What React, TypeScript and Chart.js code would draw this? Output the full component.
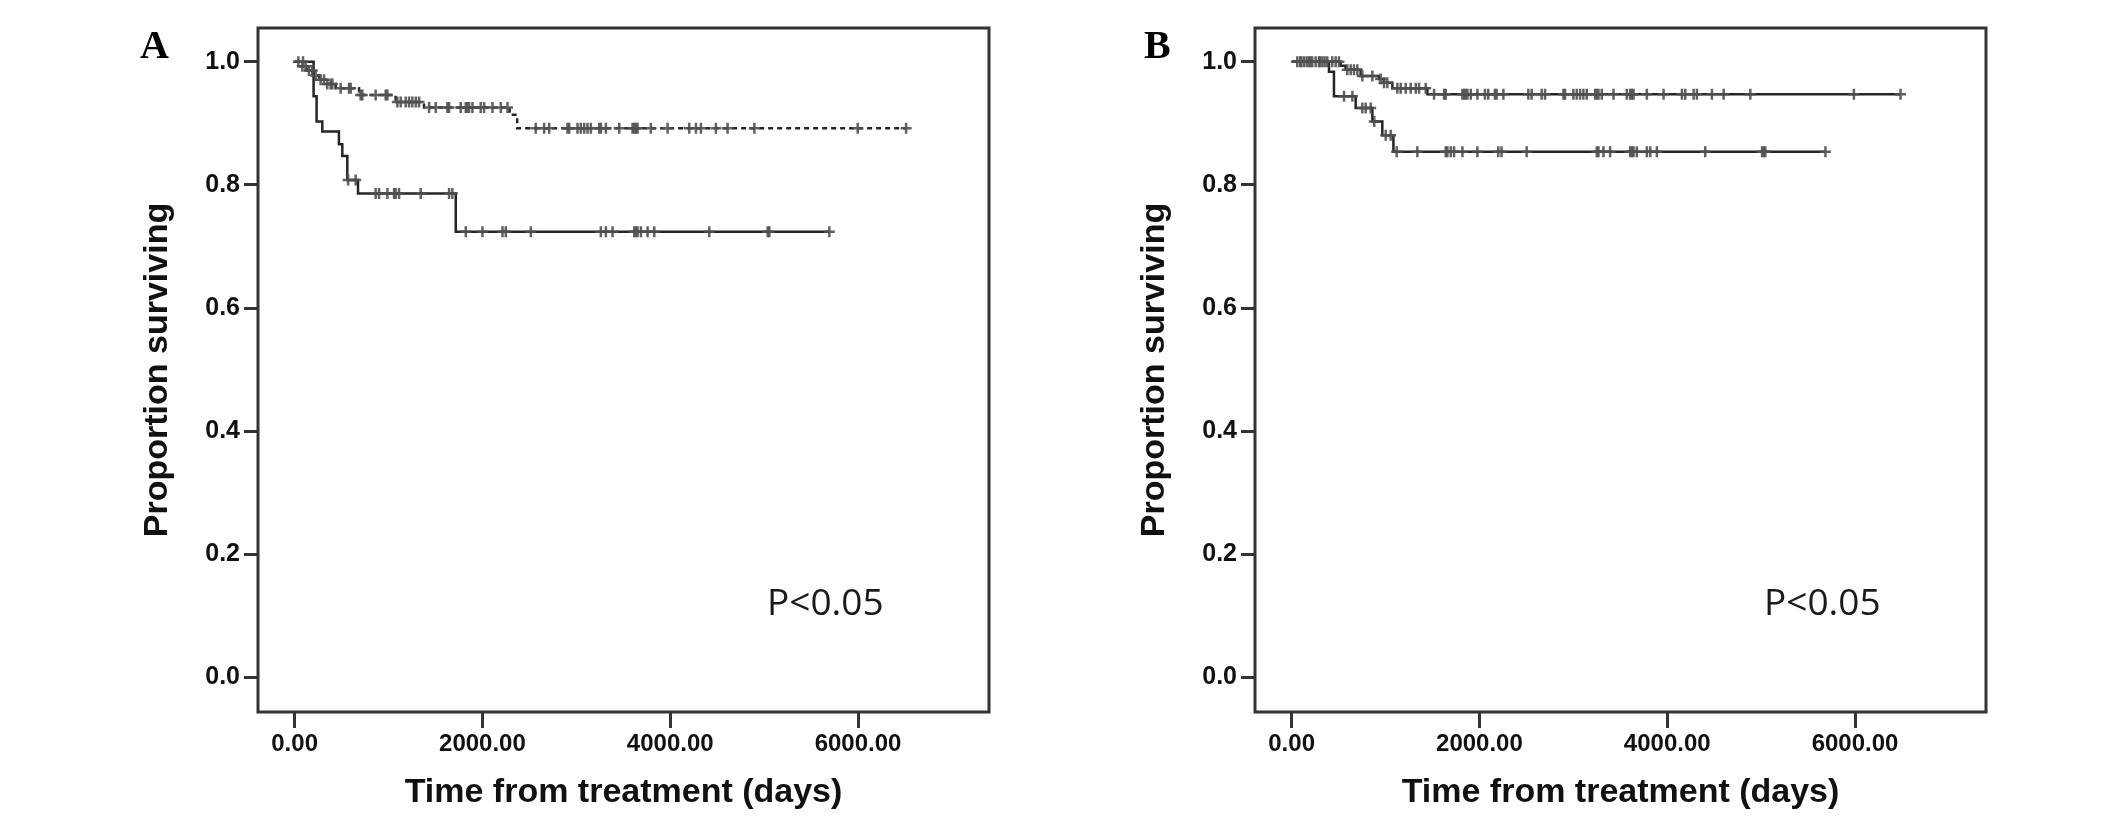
import { useEffect, useRef } from "react"
import { Chart, registerables } from "chart.js"

Chart.register(...registerables)

// Painel A - tempos dos eventos (dias) e sobrevida após cada evento
const aUpperTimes = [0, 60, 130, 200, 260, 330, 437, 686, 1076, 1378, 2290, 2370]
const aUpperSurv = [1.0, 0.993, 0.986, 0.978, 0.971, 0.964, 0.957, 0.946, 0.935, 0.926, 0.914, 0.892]
const aUpperCensored = [
  82, 117, 153, 188, 224, 277, 313, 348, 384, 402, 490, 579, 597, 703, 721, 863, 970, 988, 1094, 1130,
  1183, 1219, 1254, 1290, 1325, 1432, 1503, 1627, 1645, 1769, 1823, 1840, 1858, 1894, 1982, 2018, 2107,
  2196, 2267, 2568, 2657, 2711, 2906, 2924, 3013, 3048, 3084, 3119, 3155, 3244, 3262, 3315, 3457, 3599,
  3617, 3635, 3652, 3794, 3972, 4203, 4274, 4327, 4487, 4611, 4896, 5997, 6512,
]

const aLowerTimes = [0, 202, 234, 295, 472, 508, 561, 675, 1716]
const aLowerSurv = [1.0, 0.944, 0.903, 0.887, 0.866, 0.847, 0.808, 0.786, 0.724]
const aLowerCensored = [
  40, 90, 570, 650, 863, 899, 988, 1059, 1076, 1112, 1343, 1645, 1680, 1823, 2000, 2214, 2249, 2516, 3261,
  3315, 3386, 3617, 3635, 3652, 3688, 3759, 3830, 4416, 5038, 5056, 5695,
]

// Painel B
const bUpperTimes = [0, 522, 575, 735, 931, 984, 1073, 1446]
const bUpperSurv = [1.0, 0.9935, 0.987, 0.977, 0.972, 0.966, 0.957, 0.9475]
const bUpperCensored = [
  60, 103, 131, 160, 185, 220, 256, 291, 327, 352, 380, 433, 469, 504, 593, 629, 664, 700, 753, 860, 948,
  984, 1019, 1126, 1162, 1215, 1268, 1322, 1357, 1428, 1517, 1624, 1641, 1819, 1837, 1854, 1872, 1908,
  1979, 2059, 2094, 2165, 2183, 2255, 2521, 2556, 2663, 2699, 2895, 2912, 3001, 3036, 3072, 3107, 3143,
  3232, 3250, 3268, 3303, 3428, 3570, 3605, 3623, 3641, 3783, 3961, 4157, 4192, 4281, 4316, 4476, 4601,
  4885, 5988, 6485,
]

const bLowerTimes = [0, 398, 451, 682, 860, 966, 1084]
const bLowerSurv = [1.0, 0.984, 0.944, 0.925, 0.903, 0.881, 0.854]
const bLowerCensored = [
  90, 200, 300, 558, 647, 753, 789, 842, 880, 1002, 1055, 1119, 1339, 1641, 1659, 1695, 1730, 1819, 1979,
  2201, 2236, 2503, 3250, 3268, 3321, 3392, 3605, 3623, 3641, 3676, 3783, 3819, 3890, 4405, 5010, 5028,
  5045, 5685,
]

const xTickValues = [0, 2000, 4000, 6000]
const yTickValues = [0, 0.2, 0.4, 0.6, 0.8, 1.0]
const xTitle = "Time from treatment (days)"
const yTitle = "Proportion surviving"
const pLabel = "P<0.05"

const LINE_COLOR = "#252525"
const MARK_COLOR = "rgba(80,80,80,0.9)"
const TICK_FONT = "'Liberation Sans', Arial, sans-serif"
const TITLE_FONT = "'Liberation Sans', Arial, sans-serif"

function survivalAt(times: number[], surv: number[], t: number) {
  let s = surv[0]
  for (let i = 0; i < times.length; i++) {
    if (times[i] <= t) s = surv[i]
  }
  return s
}

function curvePoints(times: number[], surv: number[], censored: number[]) {
  const pts = times.map((t, i) => ({ x: t, y: surv[i] }))
  const end = Math.max(...censored, times[times.length - 1])
  pts.push({ x: end, y: surv[surv.length - 1] })
  return pts
}

function censorPoints(times: number[], surv: number[], censored: number[]) {
  return censored.map((t) => ({ x: t, y: survivalAt(times, surv, t) }))
}

const framePlugin = {
  id: "frame",
  afterDraw(chart: any, _args: any, opts: any) {
    const { ctx, chartArea: a } = chart
    ctx.save()
    ctx.strokeStyle = "#333"
    ctx.lineWidth = 3
    ctx.strokeRect(a.left, a.top, a.right - a.left, a.bottom - a.top)
    ctx.fillStyle = "#000"
    ctx.textBaseline = "alphabetic"
    ctx.font = "bold 40px 'Liberation Serif', 'Times New Roman', serif"
    ctx.fillText(opts.letter, opts.letterX, 58)
    ctx.fillStyle = "#1a1a1a"
    ctx.font = "37px 'Open Sans', 'Noto Sans', sans-serif"
    ctx.fillText(pLabel, a.left + 509, 615)
    ctx.restore()
  },
}

interface PanelProps {
  left: number
  width: number
  letter: string
  letterX: number
  upper: { times: number[]; surv: number[]; censored: number[]; dashed: boolean }
  lower: { times: number[]; surv: number[]; censored: number[] }
}

function KaplanMeierPanel({ left, width, letter, letterX, upper, lower }: PanelProps) {
  const chartRef = useRef<HTMLCanvasElement>(null)
  const chartInstance = useRef<Chart | null>(null)

  useEffect(() => {
    if (!chartRef.current) return
    if (chartInstance.current) chartInstance.current.destroy()

    const ctx = chartRef.current.getContext("2d")
    if (!ctx) return

    const markStyle = {
      type: "scatter" as const,
      showLine: false,
      pointStyle: "cross",
      pointRadius: 5.5,
      pointBorderWidth: 2.5,
      pointBorderColor: MARK_COLOR,
      pointBackgroundColor: MARK_COLOR,
    }

    chartInstance.current = new Chart(ctx, {
      type: "line",
      data: {
        datasets: [
          { ...markStyle, data: censorPoints(upper.times, upper.surv, upper.censored) },
          { ...markStyle, data: censorPoints(lower.times, lower.surv, lower.censored) },
          {
            data: curvePoints(upper.times, upper.surv, upper.censored),
            stepped: true,
            borderColor: LINE_COLOR,
            borderWidth: 2.5,
            borderDash: upper.dashed ? [5, 4] : [],
            pointRadius: 0,
            fill: false,
          },
          {
            data: curvePoints(lower.times, lower.surv, lower.censored),
            stepped: true,
            borderColor: LINE_COLOR,
            borderWidth: 2.5,
            pointRadius: 0,
            fill: false,
          },
        ],
      },
      options: {
        animation: false,
        responsive: true,
        maintainAspectRatio: false,
        layout: { padding: { left: 137, top: 28, right: width - 989, bottom: 0 } },
        plugins: {
          legend: { display: false },
          tooltip: { enabled: false },
          frame: { letter, letterX },
        } as any,
        scales: {
          x: {
            type: "linear",
            min: -390,
            max: 7395,
            afterFit: (scale: any) => {
              scale.height = 115
            },
            afterBuildTicks: (scale: any) => {
              scale.ticks = xTickValues.map((v) => ({ value: v }))
            },
            border: { display: false },
            grid: { drawOnChartArea: false, drawTicks: true, tickLength: 16, color: "#333", lineWidth: 3 },
            ticks: {
              color: "#111",
              padding: 2,
              maxRotation: 0,
              font: { family: TICK_FONT, weight: "bold", size: 24 },
              callback: (v: any) => Number(v).toFixed(2),
            },
            title: {
              display: true,
              text: xTitle,
              color: "#111",
              padding: { top: 0, bottom: 14 },
              font: { family: TITLE_FONT, weight: "bold", size: 34 },
            },
          },
          y: {
            type: "linear",
            min: -0.056,
            max: 1.055,
            afterFit: (scale: any) => {
              scale.width = 121
            },
            afterBuildTicks: (scale: any) => {
              scale.ticks = yTickValues.map((v) => ({ value: v }))
            },
            border: { display: false },
            grid: { drawOnChartArea: false, drawTicks: true, tickLength: 14, color: "#333", lineWidth: 3 },
            ticks: {
              color: "#111",
              padding: 4,
              font: { family: TICK_FONT, weight: "bold", size: 25 },
              callback: (v: any) => Number(v).toFixed(1),
            },
            title: {
              display: true,
              text: yTitle,
              color: "#111",
              padding: { top: 0, bottom: 0 },
              font: { family: TITLE_FONT, weight: "bold", size: 34 },
            },
          },
        },
      },
      plugins: [framePlugin],
    })

    return () => {
      if (chartInstance.current) {
        chartInstance.current.destroy()
        chartInstance.current = null
      }
    }
  }, [])

  return (
    <div style={{ position: "absolute", left, top: 0, width, height: 827 }}>
      <canvas ref={chartRef} />
    </div>
  )
}

export default function App() {
  useEffect(() => {
    document.body.style.margin = "0"
  }, [])

  return (
    <div style={{ position: "relative", width: 2126, height: 827, background: "#fff" }}>
      <KaplanMeierPanel
        left={0}
        width={997}
        letter="A"
        letterX={140}
        upper={{ times: aUpperTimes, surv: aUpperSurv, censored: aUpperCensored, dashed: true }}
        lower={{ times: aLowerTimes, surv: aLowerSurv, censored: aLowerCensored }}
      />
      <KaplanMeierPanel
        left={997}
        width={1129}
        letter="B"
        letterX={147}
        upper={{ times: bUpperTimes, surv: bUpperSurv, censored: bUpperCensored, dashed: false }}
        lower={{ times: bLowerTimes, surv: bLowerSurv, censored: bLowerCensored }}
      />
    </div>
  )
}
